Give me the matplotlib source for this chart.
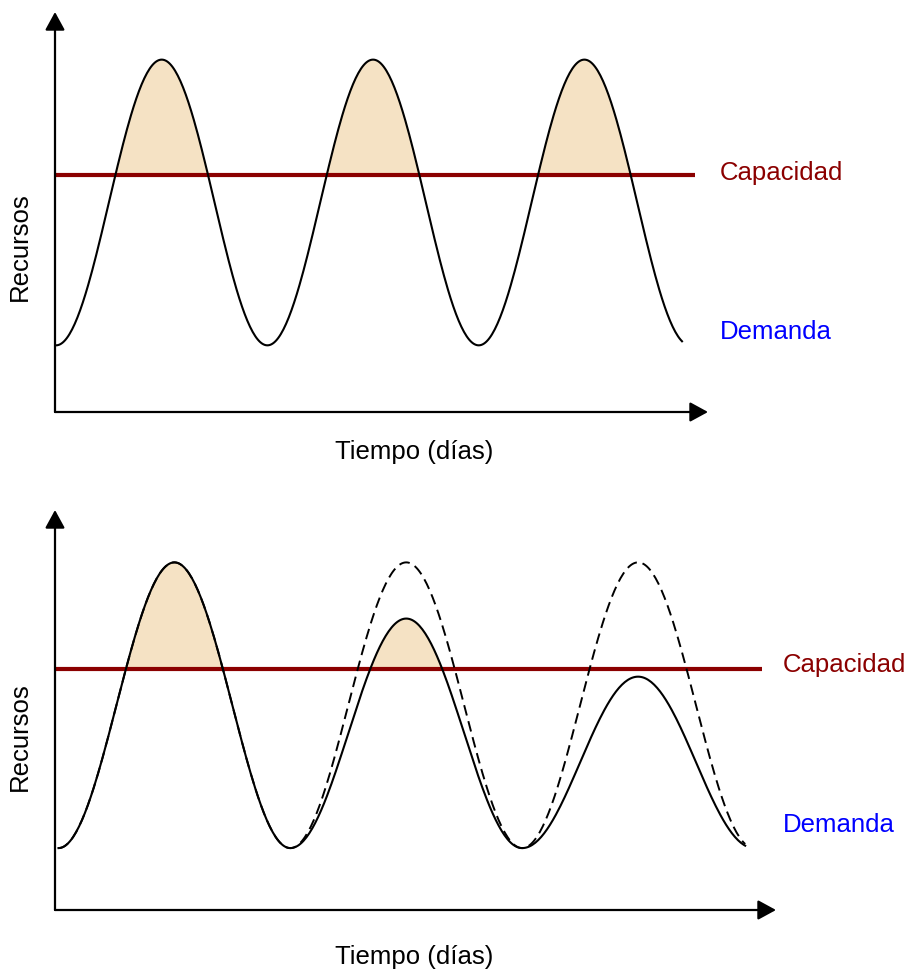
import numpy as np
import matplotlib
matplotlib.use("Agg")
import matplotlib.pyplot as plt

plt.rcParams['font.family'] = ['Liberation Sans', 'DejaVu Sans']

# Extremos de la demanda (tiempo en medios periodos, valor en recursos)
t_ext = [0, 1, 2, 3, 4, 5, 6]
demanda_arriba = [0.7, 3.7, 0.7, 3.7, 0.7, 3.7, 0.7]
demanda_original = [0.65, 3.65, 0.65, 3.65, 0.65, 3.65, 0.65]
demanda_ajustada = [0.65, 3.65, 0.65, 3.06, 0.65, 2.45, 0.65]
capacidad_arriba = 2.49
capacidad_abajo = 2.53
t_fin = 5.93

xlabel = "Tiempo (días)"
ylabel = "Recursos"
cap_label = "Capacidad"
dem_label = "Demanda"

W, H = 907, 972
fill_color = '#F5E2C4'
cap_color = '#8B0000'


def curva(tx, vals, t_end, n=80):
    # curva suave (medio coseno) entre extremos consecutivos
    ts, ys = [], []
    for i in range(len(tx) - 1):
        s = np.linspace(0, 1, n)
        t = tx[i] + (tx[i + 1] - tx[i]) * s
        y = vals[i] + (vals[i + 1] - vals[i]) * (1 - np.cos(np.pi * s)) / 2
        ts.append(t)
        ys.append(y)
    t = np.concatenate(ts)
    y = np.concatenate(ys)
    m = t <= t_end
    return t[m], y[m]


def ejes(fig, px_left, px_right, px_bottom, px_top):
    ax = fig.add_axes([px_left / W, 1 - px_bottom / H,
                       (px_right - px_left) / W, (px_bottom - px_top) / H])
    for s in ax.spines.values():
        s.set_visible(False)
    ax.set_xticks([])
    ax.set_yticks([])
    ax.patch.set_alpha(0)
    arrow = dict(arrowstyle='-|>,head_length=0.55,head_width=0.3',
                 color='black', lw=1.6, mutation_scale=20, shrinkA=0, shrinkB=0)
    ax.annotate('', xy=(1, 0), xytext=(0, 0), xycoords='axes fraction',
                arrowprops=arrow, annotation_clip=False)
    ax.annotate('', xy=(0, 1), xytext=(0, 0), xycoords='axes fraction',
                arrowprops=arrow, annotation_clip=False)
    return ax


def ftext(x, y, s, **kw):
    fig.text(x / W, 1 - y / H, s, fontsize=18.5, **kw)


fig = plt.figure(figsize=(W / 100, H / 100), dpi=100)

# Panel superior
ax1 = ejes(fig, 55, 708, 412, 12)
ax1.set_xlim(-0.01, 6.17)
ax1.set_ylim(0, 4.2)
t, y = curva(t_ext, demanda_arriba, t_fin)
ax1.fill_between(t, capacidad_arriba, y, where=y > capacidad_arriba,
                 interpolate=True, color=fill_color, lw=0, zorder=1)
ax1.plot([0, 6.05], [capacidad_arriba, capacidad_arriba], color=cap_color,
         lw=3, solid_capstyle='butt', zorder=2)
ax1.plot(t, y, color='black', lw=1.5, zorder=3)

ftext(720, 173, cap_label, color=cap_color, ha='left', va='center')
ftext(720, 332, dem_label, color='blue', ha='left', va='center')
ftext(414, 452, xlabel, ha='center', va='center')
ftext(20, 247, ylabel, ha='center', va='center', rotation=90)

# Panel inferior
ax2 = ejes(fig, 55, 776, 910, 510)
ax2.set_xlim(-0.03, 6.19)
ax2.set_ylim(0, 4.2)
t, y0 = curva(t_ext, demanda_original, t_fin)
t, y = curva(t_ext, demanda_ajustada, t_fin)
ax2.fill_between(t, capacidad_abajo, y, where=y > capacidad_abajo,
                 interpolate=True, color=fill_color, lw=0, zorder=1)
ax2.plot([-0.03, 6.07], [capacidad_abajo, capacidad_abajo], color=cap_color,
         lw=3, solid_capstyle='butt', zorder=2)
ax2.plot(t, y0, color='black', lw=1.4, dashes=(5.5, 3), zorder=3)
ax2.plot(t, y, color='black', lw=1.5, zorder=4)

ftext(783, 665, cap_label, color=cap_color, ha='left', va='center')
ftext(783, 825, dem_label, color='blue', ha='left', va='center')
ftext(414, 957, xlabel, ha='center', va='center')
ftext(20, 737, ylabel, ha='center', va='center', rotation=90)

fig.savefig('out.png', dpi=100)
